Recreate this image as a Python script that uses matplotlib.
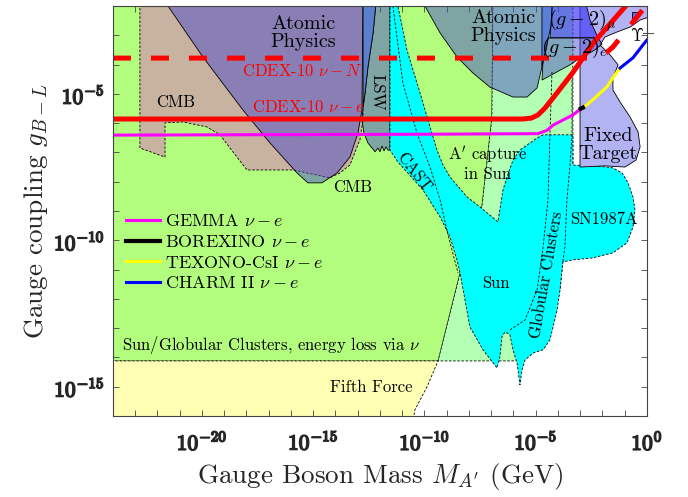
import numpy as np
import matplotlib
import matplotlib.pyplot as plt
import matplotlib.patheffects as pe
from matplotlib.colors import to_rgba
from matplotlib.ticker import FixedLocator, FuncFormatter

plt.rcParams['font.family'] = 'serif'
plt.rcParams['font.serif'] = ['cmr10']
plt.rcParams['mathtext.fontset'] = 'cm'
plt.rcParams['axes.unicode_minus'] = False
plt.rcParams['axes.formatter.use_mathtext'] = True

# ---- excluded regions, (log10 M, log10 g) ----
green_lx = [-25, -6.92, -6.97, -7.42, -8.40, -9.39, -25]
green_ly = [-1.5, -1.5, -5.82, -8.86, -11.12, -14.12, -14.12]

mint_lx = [-6.92, -3.33, -3.33, -3.91, -5.71, -9.39, -8.40, -7.42, -6.97]
mint_ly = [-1.5, -1.5, -7.43, -11.70, -14.12, -14.12, -11.12, -8.86, -5.82]

fifth_lx = [-25, -9.39, -9.89, -10.43, -10.6, -25]
fifth_ly = [-14.12, -14.12, -15.01, -15.79, -16.5, -16.5]

cmb_lx = [-22.79, -22.79, -21.66, -21.66, -20.85, -19.78, -19.19, -18.61, -17.98,
          -15.91, -14.25, -13.80, -13.35, -12.90, -12.76, -12.67]
cmb_ly = [-1.5, -6.85, -7.16, -5.99, -5.96, -6.13, -6.40, -6.98, -7.60,
          -7.60, -7.87, -7.70, -7.43, -6.57, -5.89, -1.5]

atom1_lx = [-21.53, -19.96, -18.16, -16.94, -15.73, -15.24, -14.61, -13.93, -13.35,
            -12.99, -12.81, -12.76]
atom1_ly = [-2.0, -3.74, -5.55, -6.68, -7.70, -8.04, -8.04, -7.70, -7.16,
            -6.34, -5.55, -1.5]

atom2_lx = [-9.98, -9.30, -8.54, -7.82, -7.06, -6.02, -5.39, -4.94, -4.72, -4.67, -4.58]
atom2_ly = [-2.0, -2.92, -3.74, -4.29, -4.77, -5.11, -5.11, -4.80, -4.08, -3.16, -1.5]

lsw_lx = [-12.13, -12.31, -12.54, -12.67, -12.76, -12.81, -12.72, -12.54, -12.22, -12.09,
          -12.00, -11.91, -11.82, -11.73, -11.64, -11.55, -11.55]
lsw_ly = [-1.5, -2.92, -4.08, -4.97, -5.45, -5.89, -6.34, -6.68, -6.98, -6.85,
          -6.98, -6.78, -6.95, -6.81, -6.92, -6.92, -1.5]

band1_lx = [-12.76, -12.13, -12.31, -12.54, -12.67, -12.76]
band1_ly = [-1.5, -1.5, -2.92, -4.08, -4.97, -5.45]

band2_lx = [-4.72, -4.22, -4.31, -4.45, -4.58, -4.72]
band2_ly = [-1.5, -1.5, -2.65, -3.16, -3.67, -4.08]

sun_lx = [-11.55, -11.33, -10.79, -10.20, -9.75, -9.44, -9.17, -8.85, -8.09, -7.51, -6.70,
          -6.47, -6.29, -6.02, -5.71, -5.26, -4.94, -4.67, -3.33, -3.33, -2.43, -1.80,
          -1.53, -1.12, -0.85, -0.63, -0.54, -0.63, -0.90, -1.53, -2.43, -3.33, -3.78,
          -3.91, -4.04, -4.36, -4.67, -5.12, -5.48, -5.62, -5.71, -5.84, -6.02, -6.16,
          -6.38, -6.52, -6.61, -6.74, -7.37, -7.96, -8.04, -8.40, -8.54, -8.85, -9.30,
          -10.07, -10.79, -11.19, -11.55]
sun_ly = [-1.5, -1.5, -3.50, -4.97, -6.13, -6.92, -7.43, -7.84, -8.52, -8.86, -9.37,
          -8.28, -7.84, -7.26, -6.92, -6.68, -6.51, -6.40, -6.40, -7.43, -7.46, -7.50,
          -7.53, -7.70, -8.04, -8.52, -8.96, -9.55, -10.09, -10.43, -10.60, -10.67, -10.74,
          -11.70, -12.38, -13.40, -13.74, -13.85, -14.09, -14.43, -14.94, -14.19, -13.74, -13.23,
          -13.13, -13.30, -13.98, -14.36, -13.74, -12.96, -12.62, -11.12, -10.67, -9.89, -9.20,
          -8.28, -7.67, -7.33, -6.92]

fixed_lx = [-3.01, 0.5, 0.5, -0.31, -0.76, -1.35, -1.89, -2.11, -1.66, -1.30, -1.53,
            -1.53, -1.21, -0.76, -0.40, -0.31, -0.49, -0.99, -1.89, -3.01]
fixed_ly = [-1.5, -1.5, -2.27, -2.48, -2.72, -2.89, -3.06, -3.33, -3.67, -4.01, -4.46,
            -4.87, -5.28, -5.79, -6.30, -6.81, -7.26, -7.50, -7.46, -7.50]

gmu_lx = [-4.22, -2.88, -2.56, -2.20, -4.36, -4.31]
gmu_ly = [-1.5, -1.5, -2.48, -3.09, -3.09, -2.65]

ge_lx = [-4.45, -2.20, -2.02, -2.34, -3.01, -3.46, -4.04, -4.72, -4.67, -4.54]
ge_ly = [-3.09, -3.09, -3.30, -3.50, -3.78, -4.01, -4.25, -4.53, -3.84, -3.50]

ups_lx = [-0.67, -0.45, -0.45, -0.67]
ups_ly = [-2.20, -2.20, -2.41, -2.41]

# dashed guide lines inside the cyan region
cast_lx = [-11.42, -10.97, -10.34, -9.75, -9.30, -8.94, -8.49]
cast_ly = [-2.0, -4.63, -6.34, -7.50, -8.62, -9.82, -11.12]
gc_left_lx = [-4.27, -4.36, -4.45, -4.67, -4.94, -5.48, -6.16]
gc_left_ly = [-4.25, -6.34, -8.62, -10.23, -11.70, -12.72, -13.06]
gc_right_lx = [-3.37, -3.37, -3.46, -3.60, -3.69, -3.78]
gc_right_ly = [-4.25, -6.40, -7.43, -8.62, -10.23, -10.74]

# ---- experimental limits ----
cdex_N_lx = [-24, -2.6, -2.2, -1.8, -1.53, -0.45, 0.3]
cdex_N_ly = [-3.78, -3.78, -3.72, -3.58, -3.40, -2.38, -1.65]
cdex_e_lx = [-24, -5.6, -5.2, -4.9, -4.6, -4.22, -3.33, -2.43, -0.99, 0.2]
cdex_e_ly = [-5.86, -5.86, -5.83, -5.72, -5.50, -5.14, -4.27, -3.28, -2.03, -0.9]
gemma_lx = [-24, -10, -4.9, -4.5, -4.22, -3.33, -2.95]
gemma_ly = [-6.41, -6.38, -6.36, -6.25, -6.07, -5.72, -5.50]
borex_lx = [-2.98, -2.88]
borex_ly = [-5.51, -5.47]
texono_lx = [-2.88, -2.43, -1.80, -1.44, -1.21]
texono_ly = [-5.48, -5.20, -4.76, -4.35, -4.12]
charm_lx = [-1.21, -0.63, -0.18, 0.0]
charm_ly = [-4.12, -3.77, -3.33, -3.16]


def p(a):
    return 10.0 ** np.asarray(a)


fig = plt.figure(figsize=(6.88, 4.97), dpi=100)
ax = fig.add_axes([0.1642, 0.163, 0.7762, 0.825])
ax.set_xscale('log')
ax.set_yscale('log')
ax.set_xlim(1e-24, 1)
ax.set_ylim(1e-16, 1e-2)


def region(lx, ly, color, alpha=1.0, ls=(0, (3, 2)), z=1):
    ax.fill(p(lx), p(ly), facecolor=to_rgba(color, alpha), edgecolor='k',
            lw=0.6, ls=ls, zorder=z)


atom_c = '#4c4ec8'
region(green_lx, green_ly, '#b2fc7e', z=1)
region(mint_lx, mint_ly, '#b3ffb3', z=1)
region(fifth_lx, fifth_ly, '#ffffb3', z=1)
region(cmb_lx, cmb_ly, '#c8b2a0', z=2)
region(atom1_lx, atom1_ly, atom_c, 0.5, '-', z=3)
region(atom2_lx, atom2_ly, atom_c, 0.5, '-', z=3)
region(lsw_lx, lsw_ly, atom_c, 0.5, '-', z=3)
region(band1_lx, band1_ly, '#5a7fcf', 1.0, '-', z=3)
region(sun_lx, sun_ly, '#00ffff', z=4)
region(fixed_lx, fixed_ly, '#b1b3f3', 1.0, '-', z=4)
region(band2_lx, band2_ly, '#5a7fd8', 1.0, '-', z=5)
region(gmu_lx, gmu_ly, '#453df3', 0.7, '-', z=5)
region(ge_lx, ge_ly, atom_c, 0.5, '-', z=5)
region(ups_lx, ups_ly, '#6c6cf2', 1.0, '-', z=5)

for lx, ly in [(cast_lx, cast_ly), (gc_left_lx, gc_left_ly), (gc_right_lx, gc_right_ly)]:
    ax.plot(p(lx), p(ly), color='k', lw=0.6, ls=(0, (3, 2)), zorder=6)

ax.plot(p(cdex_N_lx), p(cdex_N_ly), color='#ff0000', lw=3.6, ls=(0, (3.6, 4.0)), zorder=8)
ax.plot(p(cdex_e_lx), p(cdex_e_ly), color='#ff0000', lw=3.6, zorder=8, solid_capstyle='butt')
l1, = ax.plot(p(gemma_lx), p(gemma_ly), color='#ff00ff', lw=2.2, zorder=8, label=r'GEMMA $\nu-e$')
l2, = ax.plot(p(borex_lx), p(borex_ly), color='k', lw=3, zorder=9, label=r'BOREXINO $\nu-e$')
l3, = ax.plot(p(texono_lx), p(texono_ly), color='#ffff00', lw=2.2, zorder=8, label=r'TEXONO-CsI $\nu-e$')
l4, = ax.plot(p(charm_lx), p(charm_ly), color='#0000ff', lw=2.2, zorder=8, label=r'CHARM II $\nu-e$')

# Upsilon marker
ax.plot(p([-0.18, 0.27]), p([-2.92, -2.92]), color='#555555', lw=0.8, clip_on=False, zorder=9)

fs = 12
big = 14.5
labels = [
    ('Atomic\nPhysics', -15.46, -2.92, 0, big),
    ('Atomic\nPhysics', -6.47, -2.72, 0, big),
    ('CMB', -21.17, -5.28, 0, fs),
    ('CMB', -13.21, -8.21, 0, fs),
    ('LSW', -12.13, -4.94, -90, fs),
    ('CAST', -10.47, -7.67, -52, fs),
    ("A$'$ capture\nin Sun", -7.15, -7.36, 0, fs),
    ('Sun', -6.79, -11.46, 0, fs),
    ('Globular Clusters', -4.49, -11.18, 80, fs),
    ('SN1987A', -1.93, -9.27, 0, fs),
    ('Fixed\nTarget', -1.75, -6.75, 0, big),
    (r'$(g-2)_\mu$', -2.90, -2.51, 0, big),
    (r'$(g-2)_e$', -3.24, -3.43, 0, big),
    (r'$\Upsilon$', -0.45, -2.99, 0, fs),
    ('Fifth Force', -12.40, -15.01, 0, fs),
]
for s, lx, ly, rot, size in labels:
    ax.text(p(lx), p(ly), s, ha='center', va='center', rotation=rot, color='k',
            fontsize=size, linespacing=1.05, zorder=10, rotation_mode='anchor')

ax.text(p(-12.81), p(-4.22), r'CDEX-10 $\nu-N$', color='#ff0000', ha='right', va='center',
        fontsize=fs, zorder=10)
ax.text(p(-12.67), p(-5.45), r'CDEX-10 $\nu-e$', color='#ff0000', ha='right', va='center',
        fontsize=fs, zorder=10)
ax.text(p(-23.6), p(-13.57), r'Sun/Globular Clusters, energy loss via $\nu$', ha='left',
        va='center', fontsize=fs, zorder=10)

leg = ax.legend(handles=[l1, l2, l3, l4], loc='upper left', bbox_to_anchor=(0.0, 0.525),
                frameon=False, fontsize=13, handlelength=1.9, handletextpad=0.3,
                labelspacing=0.26, borderaxespad=0.3)
leg.set_zorder(11)

# ticks every decade, labels every five
ax.xaxis.set_major_locator(FixedLocator(p(np.arange(-24, 1))))
ax.yaxis.set_major_locator(FixedLocator(p(np.arange(-16, -1))))
ax.xaxis.set_minor_locator(FixedLocator([]))
ax.yaxis.set_minor_locator(FixedLocator([]))
fmt = FuncFormatter(lambda v, pos: r'$\mathbf{10^{%d}}$' % round(np.log10(v))
                    if round(np.log10(v)) % 5 == 0 else '')
ax.xaxis.set_major_formatter(fmt)
ax.yaxis.set_major_formatter(fmt)
ax.tick_params(which='both', direction='in', top=True, right=True, length=4,
               width=0.6, color='#444444', labelsize=15.5, labelcolor='#262626', zorder=12)
ax.tick_params(axis='x', pad=10)
ax.tick_params(axis='y', pad=6)
for lab in ax.get_xticklabels() + ax.get_yticklabels():
    lab.set_path_effects([pe.withStroke(linewidth=1.1, foreground='#262626')])
for sp in ax.spines.values():
    sp.set_color('#444444')
    sp.set_linewidth(0.8)
    sp.set_zorder(12)

ax.set_xlabel(r"Gauge Boson Mass $M_{A'}$ (GeV)", fontsize=19.5, color='#262626')
ax.set_ylabel(r'Gauge coupling $g_{B-L}$', fontsize=19.5, color='#262626')
ax.xaxis.set_label_coords(0.5, -0.11)
ax.yaxis.set_label_coords(-0.118, 0.5)

fig.savefig('out.png', dpi=100)
